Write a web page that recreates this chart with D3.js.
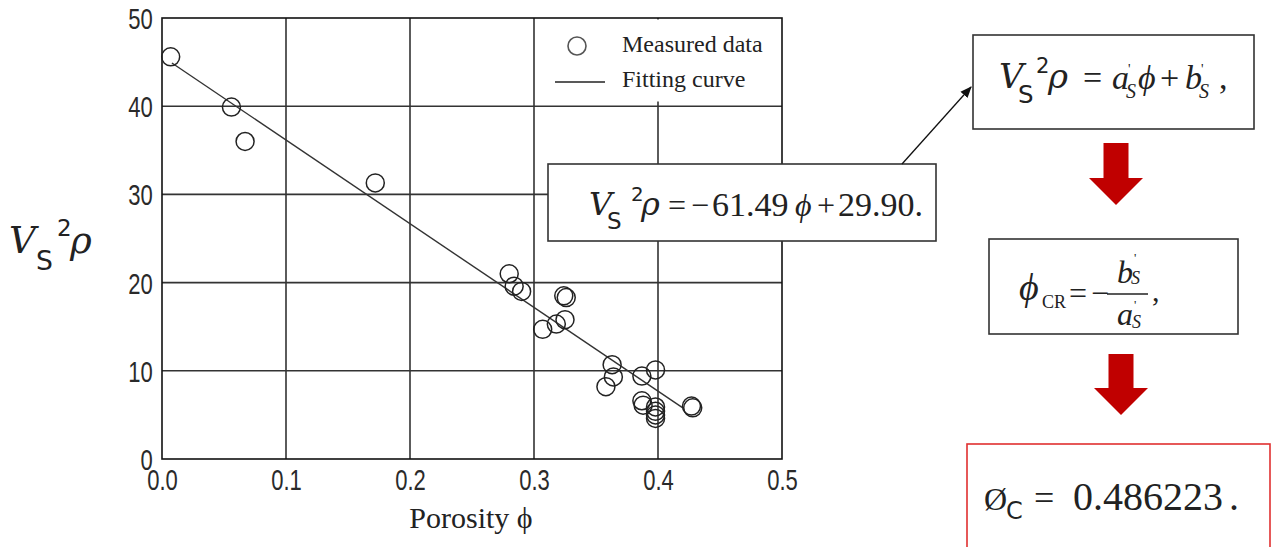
<!DOCTYPE html>
<html><head><meta charset="utf-8">
<script src="https://cdn.jsdelivr.net/npm/d3@7"></script>
<style>body{margin:0;background:#fff}svg{display:block}</style>
</head><body>
<svg id="c" width="1272" height="547"></svg>
<script>
// ---- data ----
const porosity = [0.007, 0.056, 0.067, 0.172, 0.280, 0.284, 0.290, 0.324, 0.326, 0.307, 0.318, 0.325,
                  0.363, 0.364, 0.358, 0.387, 0.398, 0.387, 0.388, 0.398, 0.398, 0.398, 0.398, 0.427, 0.428];
const vs2rho   = [45.6, 39.9, 36.0, 31.3, 21.0, 19.6, 19.0, 18.5, 18.3, 14.7, 15.3, 15.8,
                  10.7, 9.3, 8.2, 9.4, 10.1, 6.6, 6.1, 5.9, 5.4, 5.0, 4.6, 6.0, 5.8];
const fitX = [0.008, 0.420];
const fitY = [44.9, 5.8];
const xTicks = [0, 0.1, 0.2, 0.3, 0.4, 0.5];
const xTickLabels = ["0.0", "0.1", "0.2", "0.3", "0.4", "0.5"];
const yTicks = [0, 10, 20, 30, 40, 50];
const yTickLabels = ["0", "10", "20", "30", "40", "50"];
const legendLabels = ["Measured data", "Fitting curve"];
const xTitle = "Porosity \u03d5";

const svg = d3.select("#c");
const x = d3.scaleLinear().domain([0, 0.5]).range([162, 782]);
const y = d3.scaleLinear().domain([0, 50]).range([459, 18]);
const serif = "'Liberation Serif','Times New Roman',serif";
const sans = "'Liberation Sans',Arial,sans-serif";
const dsans = "'DejaVu Sans',sans-serif";
const mathIt = "'DejaVu Serif','Liberation Serif',serif";
const ink = "#222";

// grid
svg.append("g").selectAll("line").data(xTicks.slice(1, -1)).join("line")
  .attr("x1", d => x(d)).attr("x2", d => x(d)).attr("y1", y(0)).attr("y2", y(50))
  .attr("stroke", "#333").attr("stroke-width", 1.6);
svg.append("g").selectAll("line").data(yTicks.slice(1, -1)).join("line")
  .attr("x1", x(0)).attr("x2", x(0.5)).attr("y1", d => y(d)).attr("y2", d => y(d))
  .attr("stroke", "#333").attr("stroke-width", 1.6);

// axes
const xAxis = svg.append("g").attr("transform", `translate(0,${y(0)})`)
  .call(d3.axisBottom(x).tickValues(xTicks).tickFormat((d, i) => xTickLabels[i]).tickSize(0).tickPadding(10));
const yAxis = svg.append("g").attr("transform", `translate(${x(0)},0)`)
  .call(d3.axisLeft(y).tickValues(yTicks).tickFormat((d, i) => yTickLabels[i]).tickSize(0).tickPadding(0));
[xAxis, yAxis].forEach(a => {
  a.select(".domain").remove();
  a.selectAll("text").style("font-family", sans).style("font-size", "29px").attr("fill", "#2a2a2a");
});
xAxis.selectAll(".tick text").attr("dy", "0.72em").attr("transform", "scale(0.76,1)");
yAxis.selectAll(".tick text").attr("x", -12).attr("dy", "0.36em").attr("transform", "scale(0.76,1)");

// frame
svg.append("rect").attr("x", x(0)).attr("y", y(50)).attr("width", x(0.5) - x(0)).attr("height", y(0) - y(50))
  .attr("fill", "none").attr("stroke", "#111").attr("stroke-width", 1.6);

// legend (white backing covers grid)
svg.append("rect").attr("x", 545).attr("y", y(50) + 1.5).attr("width", x(0.5) - 546.5).attr("height", 82)
  .attr("fill", "#fff");
svg.append("circle").attr("cx", 577).attr("cy", 46).attr("r", 9).attr("fill", "none")
  .attr("stroke", "#555").attr("stroke-width", 1.6);
svg.append("line").attr("x1", 555).attr("x2", 605).attr("y1", 82).attr("y2", 82)
  .attr("stroke", ink).attr("stroke-width", 1.4);
svg.selectAll(".lg").data(legendLabels).join("text")
  .attr("x", 622).attr("y", (d, i) => 52 + i * 35).text(d => d)
  .style("font-family", serif).style("font-size", "24px").attr("fill", ink);

// fit line
const line = d3.line().x(d => x(d[0])).y(d => y(d[1]));
svg.append("path").datum(d3.zip(fitX, fitY)).attr("d", line)
  .attr("fill", "none").attr("stroke", "#333").attr("stroke-width", 1.4);

// points
svg.selectAll(".pt").data(d3.zip(porosity, vs2rho)).join("circle")
  .attr("cx", d => x(d[0])).attr("cy", d => y(d[1])).attr("r", 9)
  .attr("fill", "none").attr("stroke", ink).attr("stroke-width", 1.5);

// x title
svg.append("text").attr("x", 471).attr("y", 528).attr("text-anchor", "middle")
  .style("font-family", serif).style("font-size", "30px").attr("fill", ink).text(xTitle);

// text piece helper
function piece(str, px, py, font, size, italic, anchor) {
  return svg.append("text").attr("x", px).attr("y", py).text(str)
    .style("font-family", font).style("font-size", size + "px")
    .style("font-style", italic ? "italic" : "normal")
    .attr("text-anchor", anchor || "start").attr("fill", ink);
}
function vsrho(px, py, s, off) {
  piece("V", px, py, mathIt, s, true);
  piece("S", px + off[0], py + 0.45 * s, dsans, 0.72 * s, false);
  piece("2", px + off[1], py - 0.45 * s, dsans, 0.62 * s, false);
  piece("\u03c1", px + off[2], py, mathIt, s, true);
}

// y title
vsrho(9, 253, 37, [27, 48, 61]);

// equation box 1
svg.append("rect").attr("x", 548).attr("y", 164).attr("width", 388).attr("height", 77)
  .attr("fill", "#fff").attr("stroke", "#333").attr("stroke-width", 1.6);
vsrho(589, 215, 32, [18, 42, 52]);
piece("=", 668, 216, serif, 32, false);
piece("\u2212", 691, 216, serif, 32, false);
piece("61.49", 712, 216, serif, 34, false);
piece("\u03d5", 795, 216, serif, 32, true);
piece("+", 817, 216, serif, 32, false);
piece("29.90.", 838, 216, serif, 34, false);

// thin arrow
svg.append("defs").append("marker").attr("id", "ah").attr("viewBox", "0 0 10 10").attr("refX", 9).attr("refY", 5)
  .attr("markerWidth", 9).attr("markerHeight", 9).attr("orient", "auto")
  .append("path").attr("d", "M0,1 L10,5 L0,9 Z").attr("fill", "#111");
svg.append("line").attr("x1", 902).attr("y1", 164).attr("x2", 971).attr("y2", 87)
  .attr("stroke", "#111").attr("stroke-width", 1.3).attr("marker-end", "url(#ah)");

// box 2
svg.append("rect").attr("x", 973).attr("y", 35).attr("width", 281).attr("height", 94)
  .attr("fill", "#fff").attr("stroke", "#333").attr("stroke-width", 1.6);
vsrho(999, 88, 34, [19, 37, 49]);
piece("=", 1083, 89, serif, 34, false);
piece("a", 1112, 89, serif, 34, true);
piece("'", 1128, 74, serif, 14, false);
piece("S", 1126, 98, serif, 20, true);
piece("\u03d5", 1138, 89, serif, 34, true);
piece("+", 1160, 89, serif, 34, false);
piece("b", 1185, 89, serif, 34, true);
piece("'", 1201, 74, serif, 14, false);
piece("S", 1199, 98, serif, 20, true);
piece(",", 1219, 89, serif, 34, false);

// red block arrows
function blockArrow(cx, top, headTop, tip) {
  const sw = 12.5, hw = 27;
  svg.append("path").attr("d", `M${cx - sw},${top} L${cx + sw},${top} L${cx + sw},${headTop} L${cx + hw},${headTop} L${cx},${tip} L${cx - hw},${headTop} L${cx - sw},${headTop} Z`)
    .attr("fill", "#c00000");
}
blockArrow(1116, 143, 178, 205);
blockArrow(1121, 354, 388, 415);

// box 3
svg.append("rect").attr("x", 989).attr("y", 239).attr("width", 249).attr("height", 95)
  .attr("fill", "#fff").attr("stroke", "#333").attr("stroke-width", 1.6);
piece("\u03d5", 1019, 300, serif, 38, true);
piece("CR", 1042, 308, serif, 18, false);
piece("=", 1069, 304, serif, 32, false);
piece("\u2212", 1091, 304, serif, 32, false);
svg.append("line").attr("x1", 1107).attr("x2", 1148).attr("y1", 294).attr("y2", 294).attr("stroke", ink).attr("stroke-width", 1.3);
piece("b", 1117, 283, serif, 32, true);
piece("'", 1134, 262, serif, 13, false);
piece("S", 1131, 284, serif, 18, true);
piece("a", 1117, 325, serif, 32, true);
piece("'", 1134, 309, serif, 13, false);
piece("S", 1132, 328, serif, 18, true);
piece(",", 1152, 301, serif, 30, false);

// box 4
svg.append("rect").attr("x", 967).attr("y", 444).attr("width", 303).attr("height", 110)
  .attr("fill", "#fff").attr("stroke", "#e03030").attr("stroke-width", 1.6);
piece("\u00d8", 984, 510, serif, 32, false);
piece("C", 1006, 519, dsans, 24, false);
piece("=", 1034, 510, serif, 36, false);
piece("0.486223", 1073, 510, serif, 40, false);
piece(".", 1229, 510, serif, 40, false);
</script>
</body></html>
